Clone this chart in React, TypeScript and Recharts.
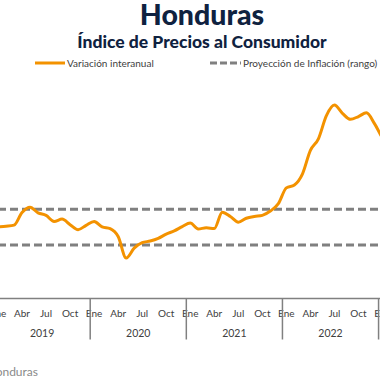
import { LineChart, Line, XAxis, YAxis, ReferenceLine } from 'recharts'

const MONTHS = ['Ene', 'Feb', 'Mar', 'Abr', 'May', 'Jun', 'Jul', 'Ago', 'Sep', 'Oct', 'Nov', 'Dic']
const YEARS = [2019, 2020, 2021, 2022, 2023]
const SHOWN_MONTHS = ['Ene', 'Abr', 'Jul', 'Oct']

// variación interanual del IPC (%)
const IPC_2019 = [4.01, 4.05, 4.11, 4.82, 5.12, 4.8, 4.66, 4.32, 4.45, 4.14, 3.86, 4.1]
const IPC_2020 = [4.32, 4.01, 3.91, 3.47, 2.27, 2.82, 3.13, 3.22, 3.37, 3.61, 3.79, 4.03]
const IPC_2021 = [4.23, 3.9, 3.96, 3.92, 4.84, 4.6, 4.28, 4.5, 4.6, 4.66, 4.9, 5.32]
const IPC_2022 = [6.2, 6.36, 6.97, 8.3, 8.95, 10.25, 10.84, 10.38, 10.04, 10.2, 10.41, 9.8]
const IPC_2023 = [8.98, 8.2]

// rango de la meta de inflación
const META_BAJA = 3
const META_ALTA = 5

const ORANGE = '#f39200'
const GRAY = '#808080'
const TEXT = '#404040'
const NAVY = '#0f2240'
const FONT = 'Lato, "Noto Sans", sans-serif'

const values = [...IPC_2019, ...IPC_2020, ...IPC_2021, ...IPC_2022, ...IPC_2023]
const data = values.map((v, i) => ({
  key: `${MONTHS[i % 12]} ${YEARS[Math.floor(i / 12)]}`,
  month: MONTHS[i % 12],
  year: YEARS[Math.floor(i / 12)],
  ipc: v,
}))

const BAND = 7.85
const PLOT_LEFT = -2.5
const CHART_W = BAND * data.length
const PLOT_TOP = 84.4
const AXIS_Y = 298.5
const CHART_H = 350
const XAXIS_H = 45

function MonthTick(props: any) {
  const { x, y, payload } = props
  const i = payload.index
  const row = data[i]
  if (!row) return null
  const half = payload.offset || BAND / 2
  return (
    <g>
      {SHOWN_MONTHS.includes(row.month) && (
        <text x={x} y={y + 14} textAnchor="middle" dominantBaseline="central" fontSize={10} fill={TEXT} fontFamily={FONT}>
          {row.month}
        </text>
      )}
      {i % 12 === 0 && (
        <line x1={x - half} x2={x - half} y1={y} y2={y + 41} stroke={GRAY} strokeWidth={1.5} />
      )}
      {i % 12 === 6 && (
        <text x={x - half} y={y + 34} textAnchor="middle" dominantBaseline="central" fontSize={10.5} fill={TEXT} fontFamily={FONT}>
          {row.year}
        </text>
      )}
    </g>
  )
}

export default function App() {
  return (
    <div
      style={{
        position: 'absolute',
        left: 0,
        top: 0,
        width: 380,
        height: 380,
        overflow: 'hidden',
        background: '#fff',
        fontFamily: FONT,
      }}
    >
      <div style={{ position: 'absolute', left: PLOT_LEFT, top: 0 }}>
        <LineChart
          width={CHART_W}
          height={CHART_H}
          data={data}
          margin={{ top: PLOT_TOP, right: 0, left: 0, bottom: CHART_H - AXIS_Y - XAXIS_H }}
        >
          <XAxis
            dataKey="key"
            interval={0}
            height={XAXIS_H}
            tickSize={0}
            tickMargin={0}
            tickLine={false}
            axisLine={{ stroke: GRAY, strokeWidth: 1.5 }}
            tick={<MonthTick />}
          />
          <YAxis hide domain={[0, 12]} />
          <ReferenceLine y={META_ALTA} stroke={GRAY} strokeWidth={3} strokeDasharray="8 4" />
          <ReferenceLine y={META_BAJA} stroke={GRAY} strokeWidth={3} strokeDasharray="8 4" />
          <Line
            type="monotone"
            dataKey="ipc"
            stroke={ORANGE}
            strokeWidth={3}
            dot={false}
            isAnimationActive={false}
          />
        </LineChart>
      </div>

      <svg style={{ position: 'absolute', left: 0, top: 0 }} width={380} height={75}>
        <text x={202} y={24.5} textAnchor="middle" fontSize={28.5} fontWeight={900} fill={NAVY} fontFamily={FONT}>
          Honduras
        </text>
        <text x={202} y={48} textAnchor="middle" fontSize={17.5} fontWeight={900} fill={NAVY} fontFamily={FONT}>
          Índice de Precios al Consumidor
        </text>
        <line x1={35} x2={65} y1={63} y2={63} stroke={ORANGE} strokeWidth={3} />
        <text x={67} y={63} dominantBaseline="central" fontSize={10} fill={TEXT} fontFamily={FONT}>
          Variación interanual
        </text>
        <line x1={210} x2={241} y1={63} y2={63} stroke={GRAY} strokeWidth={3} strokeDasharray="7 3" />
        <text x={243} y={63} dominantBaseline="central" fontSize={10} fill={TEXT} fontFamily={FONT}>
          Proyección de Inflación (rango)
        </text>
      </svg>

      <div style={{ position: 'absolute', right: 342, top: 364, fontSize: 12, color: '#8a8a8a', whiteSpace: 'nowrap' }}>
        Fuente: Banco Central de Honduras
      </div>
    </div>
  )
}
